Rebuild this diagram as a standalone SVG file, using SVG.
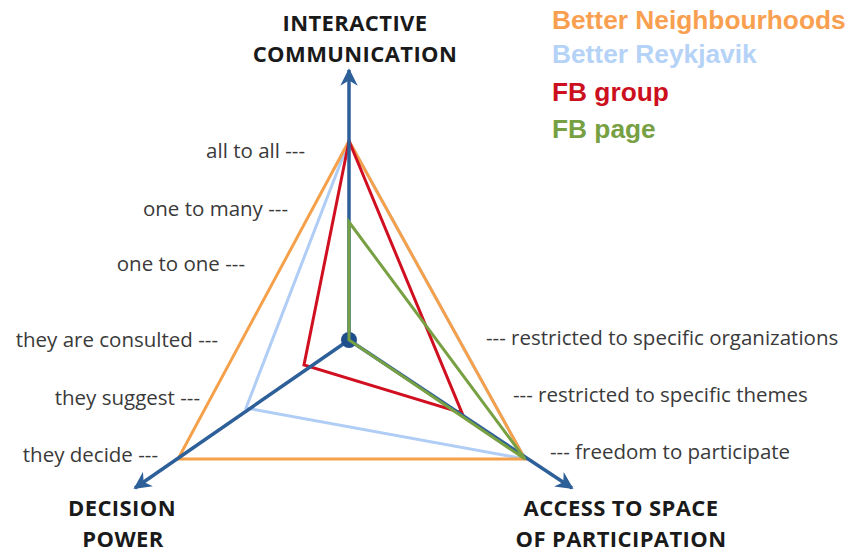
<svg xmlns="http://www.w3.org/2000/svg" width="852" height="553" viewBox="0 0 852 553">
<style>
.lbl{font-family:"Open Sans","Liberation Sans",sans-serif;font-size:20.5px;fill:#3a3a3a}
.ttl{font-family:"Open Sans","Liberation Sans",sans-serif;font-size:22px;font-weight:bold;fill:#1a1a1a;text-anchor:middle;letter-spacing:0.4px}
.leg{font-family:"Liberation Sans",Arial,sans-serif;font-size:26.3px;font-weight:bold}
.axis{stroke:#2D5F98;stroke-width:3.5;fill:none}
.poly{fill:none;stroke-width:3;stroke-linejoin:miter}
</style>
<defs>
<marker id="arr" viewBox="0 0 10 10" refX="9" refY="5" markerWidth="5" markerHeight="5" orient="auto" markerUnits="strokeWidth">
<path d="M0,0 L10,5 L0,10 L3,5 Z" fill="#2D5F98"/>
</marker>
</defs>
<g id="polygons">
<polygon id="better-reykjavik" class="poly" points="349,141 525,459 246,408" stroke="#AFCDF5"/>
<polygon id="better-neighbourhoods" class="poly" points="349,141 525,459 178,459" stroke="#F5A04A"/>
<polygon id="fb-group" class="poly" points="349,141 462,413 304,365" stroke="#D01020"/>
</g>
<g id="connectors">
<line class="axis" x1="349" y1="340" x2="349" y2="70" marker-end="url(#arr)"/>
<line class="axis" x1="349" y1="340" x2="135" y2="488" marker-end="url(#arr)"/>
<line class="axis" x1="349" y1="340" x2="572" y2="488" marker-end="url(#arr)"/>
</g>
<g id="center"><circle cx="349" cy="340" r="8" fill="#1F4E8C"/></g>
<g id="fb-page"><polygon class="poly" points="349,222 525,459 349,340" stroke="#77A043"/></g>
<g id="axis-titles">
<text class="ttl" x="355" y="31">INTERACTIVE</text>
<text class="ttl" x="355" y="62">COMMUNICATION</text>
<text class="ttl" x="122" y="516">DECISION</text>
<text class="ttl" x="123" y="547">POWER</text>
<text class="ttl" x="621" y="516">ACCESS TO SPACE</text>
<text class="ttl" x="621" y="547">OF PARTICIPATION</text>
</g>
<g id="scale-labels">
<text class="lbl" x="305" y="158" text-anchor="end">all to all ---</text>
<text class="lbl" x="288" y="216" text-anchor="end">one to many ---</text>
<text class="lbl" x="245" y="271" text-anchor="end">one to one ---</text>
<text class="lbl" x="218" y="347" text-anchor="end">they are consulted ---</text>
<text class="lbl" x="200" y="405" text-anchor="end">they suggest ---</text>
<text class="lbl" x="158" y="462" text-anchor="end">they decide ---</text>
<text class="lbl" x="486" y="345">--- restricted to specific organizations</text>
<text class="lbl" x="513" y="402">--- restricted to specific themes</text>
<text class="lbl" x="550" y="459">--- freedom to participate</text>
</g>
<g id="legend">
<text class="leg" x="552" y="29" fill="#F9A050">Better Neighbourhoods</text>
<text class="leg" x="552" y="63" fill="#B5D2F7">Better Reykjavik</text>
<text class="leg" x="552" y="101" fill="#CC1020">FB group</text>
<text class="leg" x="552" y="138" fill="#77A043">FB page</text>
</g>
</svg>
